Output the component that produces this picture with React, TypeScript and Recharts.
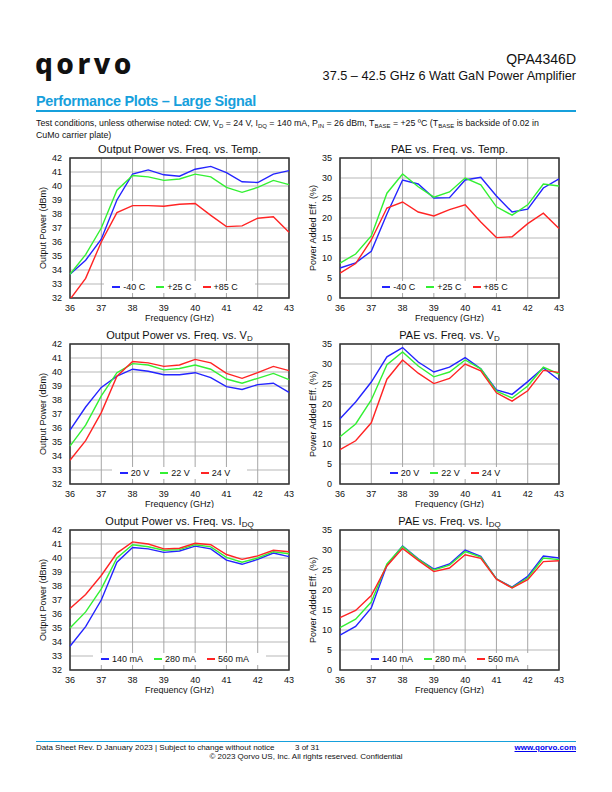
import React from 'react';
import { LineChart, Line, XAxis, YAxis, CartesianGrid, Legend, ReferenceArea } from 'recharts';

// frequency points (GHz)
const freqGHz = [36, 36.5, 37, 37.5, 38, 38.5, 39, 39.5, 40, 40.5, 41, 41.5, 42, 42.5, 43];
const freqTicks = [36, 37, 38, 39, 40, 41, 42, 43];
const poutTicks = [32, 33, 34, 35, 36, 37, 38, 39, 40, 41, 42];
const paeTicks = [0, 5, 10, 15, 20, 25, 30, 35];

// Output power vs temperature (dBm)
const poutM40C = [33.7, 34.7, 36.2, 39.0, 40.85, 41.15, 40.8, 40.7, 41.2, 41.4, 40.95, 40.3, 40.25, 40.85, 41.1];
const poutP25C = [33.7, 35.1, 37.0, 39.7, 40.75, 40.65, 40.4, 40.5, 40.85, 40.65, 39.9, 39.55, 39.9, 40.4, 40.1];
const poutP85C = [31.9, 33.4, 36.0, 38.1, 38.6, 38.6, 38.55, 38.7, 38.75, 37.9, 37.1, 37.15, 37.7, 37.8, 36.7];

// PAE vs temperature (%)
const paeM40C = [7.5, 8.8, 11.7, 21.0, 29.5, 28.5, 25.0, 25.1, 29.5, 30.2, 25.5, 21.5, 22.2, 27.5, 29.8];
const paeP25C = [8.7, 11.0, 15.5, 26.2, 31.0, 27.8, 25.2, 26.5, 30.0, 28.3, 22.8, 20.7, 23.3, 28.5, 28.0];
const paeP85C = [6.2, 8.6, 14.5, 22.5, 24.0, 21.5, 20.5, 22.1, 23.3, 19.0, 15.1, 15.3, 18.6, 21.2, 17.4];

// Output power vs VD (dBm)
const pout20V = [35.85, 37.5, 38.9, 39.7, 40.2, 40.05, 39.8, 39.8, 39.95, 39.6, 38.95, 38.75, 39.1, 39.2, 38.55];
const pout22V = [34.7, 36.2, 38.3, 39.95, 40.6, 40.5, 40.15, 40.25, 40.5, 40.2, 39.5, 39.2, 39.55, 39.9, 39.45];
const pout24V = [33.7, 35.1, 37.1, 39.7, 40.75, 40.65, 40.4, 40.5, 40.9, 40.65, 39.9, 39.55, 39.95, 40.4, 40.1];

// PAE vs VD (%)
const pae20V = [16.3, 20.5, 25.5, 31.8, 34.1, 30.5, 28.0, 29.2, 31.6, 28.8, 23.5, 22.4, 25.6, 29.0, 26.0];
const pae22V = [11.8, 15.0, 21.0, 29.8, 33.0, 29.5, 26.8, 28.0, 31.0, 28.8, 23.2, 21.5, 24.5, 29.2, 27.5];
const pae24V = [8.6, 10.8, 15.3, 26.2, 31.0, 27.7, 25.1, 26.4, 30.0, 28.3, 22.8, 20.7, 23.3, 28.4, 27.9];

// Output power vs IDQ (dBm)
const pout140mA = [33.7, 35.1, 37.0, 39.7, 40.75, 40.65, 40.4, 40.5, 40.85, 40.65, 39.85, 39.55, 39.9, 40.35, 40.1];
const pout280mA = [35.0, 36.15, 37.8, 40.0, 40.95, 40.8, 40.55, 40.6, 40.95, 40.8, 40.05, 39.7, 40.0, 40.45, 40.3];
const pout560mA = [36.4, 37.4, 38.75, 40.35, 41.15, 41.0, 40.65, 40.7, 41.05, 40.95, 40.25, 39.9, 40.15, 40.55, 40.45];

// PAE vs IDQ (%)
const pae140mA = [8.7, 10.9, 15.5, 26.2, 31.0, 27.8, 25.2, 26.5, 30.0, 28.4, 22.8, 20.7, 23.4, 28.5, 28.0];
const pae280mA = [10.6, 12.7, 17.0, 26.5, 30.9, 27.7, 25.0, 26.2, 29.6, 28.2, 22.8, 20.6, 23.0, 28.0, 27.6];
const pae560mA = [13.1, 14.9, 18.6, 26.0, 30.4, 27.4, 24.6, 25.5, 28.8, 27.9, 22.7, 20.5, 22.6, 27.1, 27.3];

const BLUE = '#2424ff';
const GREEN = '#33f033';
const RED = '#ff2424';
const FONT = '"Liberation Sans", Arial, sans-serif';

type SeriesDef = { key: string; name: string; color: string; values: number[] };

const buildRows = (series: SeriesDef[]) =>
  freqGHz.map((f, i) => {
    const row: Record<string, number> = { freq: f };
    series.forEach((s) => {
      row[s.key] = s.values[i];
    });
    return row;
  });

const Sub = ({ children, size = 8 }: { children: React.ReactNode; size?: number }) => (
  <span style={{ fontSize: size, position: 'relative', top: 2 }}>{children}</span>
);

// legend keeps the series order (the built-in payload gets sorted)
const ChartLegend = ({ items }: { items: SeriesDef[] }) => (
  <div style={{ textAlign: 'center', lineHeight: '12px' }}>
    <div style={{ display: 'inline-flex', background: '#fff', padding: '0 6px 0 8px', fontSize: 9, color: '#111' }}>
      {items.map((it) => (
        <span key={it.key} style={{ display: 'inline-flex', alignItems: 'center', marginRight: 11 }}>
          <span style={{ display: 'inline-block', width: 8, height: 2, background: it.color, marginRight: 3 }} />
          {it.name}
        </span>
      ))}
    </div>
  </div>
);

interface PlotProps {
  left: number;
  top: number;
  title: React.ReactNode;
  yLabel: string;
  yTicks: number[];
  series: SeriesDef[];
}

const PerfPlot = ({ left, top, title, yLabel, yTicks, series }: PlotProps) => {
  const data = buildRows(series);
  const yMin = yTicks[0];
  const yMax = yTicks[yTicks.length - 1];
  return (
    <div style={{ position: 'absolute', left, top, width: 265, height: 182 }}>
      <div style={{ position: 'absolute', left: 40, top: 2, width: 219, textAlign: 'center', fontSize: 11, lineHeight: '14px', color: '#111', zIndex: 2 }}>
        {title}
      </div>
      <LineChart width={265} height={182} data={data} margin={{ top: 18, right: 6, bottom: 0, left: 0 }}>
        <CartesianGrid horizontal={true} vertical={false} stroke="#cfcfcf" strokeWidth={1.5} />
        <CartesianGrid horizontal={false} vertical={true} stroke="#a6a6a6" strokeWidth={1} />
        <XAxis
          dataKey="freq"
          type="number"
          domain={[36, 43]}
          ticks={freqTicks}
          tickLine={false}
          axisLine={false}
          tickMargin={1}
          height={24}
          tick={{ fontSize: 9, fill: '#111', fontFamily: FONT }}
          label={{ value: 'Frequency (GHz)', position: 'insideBottom', offset: 1, fontSize: 9, fill: '#111', fontFamily: FONT }}
        />
        <YAxis
          type="number"
          domain={[yMin, yMax]}
          allowDataOverflow
          ticks={yTicks}
          interval={0}
          tickLine={false}
          axisLine={false}
          width={40}
          tick={{ fontSize: 9, fill: '#111', fontFamily: FONT }}
          label={{ value: yLabel, angle: -90, position: 'insideLeft', offset: 13, fontSize: 9, fill: '#111', fontFamily: FONT, style: { textAnchor: 'middle' } }}
        />
        <ReferenceArea x1={36} x2={43} y1={yMin} y2={yMax} fill="none" stroke="#333" strokeWidth={1.5} ifOverflow="visible" />
        {series.map((s) => (
          <Line key={s.key} type="linear" dataKey={s.key} name={s.name} stroke={s.color} strokeWidth={1.4} dot={false} isAnimationActive={false} />
        ))}
        <Legend
          layout="horizontal"
          verticalAlign="middle"
          align="center"
          content={() => <ChartLegend items={series} />}
          wrapperStyle={{ left: 40, top: 137, width: 219, height: 12 }}
        />
      </LineChart>
    </div>
  );
};

const tempSeries = (a: number[], b: number[], c: number[]): SeriesDef[] => [
  { key: 'm40', name: '-40 C', color: BLUE, values: a },
  { key: 'p25', name: '+25 C', color: GREEN, values: b },
  { key: 'p85', name: '+85 C', color: RED, values: c },
];
const vdSeries = (a: number[], b: number[], c: number[]): SeriesDef[] => [
  { key: 'v20', name: '20 V', color: BLUE, values: a },
  { key: 'v22', name: '22 V', color: GREEN, values: b },
  { key: 'v24', name: '24 V', color: RED, values: c },
];
const idqSeries = (a: number[], b: number[], c: number[]): SeriesDef[] => [
  { key: 'i140', name: '140 mA', color: BLUE, values: a },
  { key: 'i280', name: '280 mA', color: GREEN, values: b },
  { key: 'i560', name: '560 mA', color: RED, values: c },
];

const App = () => {
  return (
    <div style={{ position: 'absolute', left: 0, top: 0, width: 612, height: 792, background: '#fff', fontFamily: FONT, color: '#111' }}>
      {/* header */}
      <div style={{ position: 'absolute', left: 35, top: 44, fontFamily: '"Noto Sans", sans-serif', fontWeight: 800, fontSize: 28, letterSpacing: 3.5, color: '#111' }}>
        qorvo
      </div>
      <div style={{ position: 'absolute', right: 36, top: 51, fontSize: 14, lineHeight: '16px' }}>QPA4346D</div>
      <div style={{ position: 'absolute', right: 36, top: 69, fontSize: 12.7, lineHeight: '14px' }}>37.5 – 42.5 GHz 6 Watt GaN Power Amplifier</div>
      <div style={{ position: 'absolute', left: 36, top: 93, fontSize: 14.4, fontWeight: 700, color: '#16a0dc', lineHeight: '17px', letterSpacing: -0.3 }}>
        Performance Plots – Large Signal
      </div>
      <div style={{ position: 'absolute', left: 36, top: 110, width: 540, height: 1.5, background: '#16a0dc' }} />
      <div style={{ position: 'absolute', left: 36, top: 118, width: 545, fontSize: 8.8, lineHeight: '11px' }}>
        Test conditions, unless otherwise noted: CW, V<Sub size={6}>D</Sub> = 24 V, I<Sub size={6}>DQ</Sub> = 140 mA, P<Sub size={6}>IN</Sub> = 26 dBm, T
        <Sub size={6}>BASE</Sub> = +25 ºC (T<Sub size={6}>BASE</Sub> is backside of 0.02 in
        <br />
        CuMo carrier plate)
      </div>

      <PerfPlot left={30} top={140} title="Output Power vs. Freq. vs. Temp." yLabel="Output Power (dBm)" yTicks={poutTicks} series={tempSeries(poutM40C, poutP25C, poutP85C)} />
      <PerfPlot left={300} top={140} title="PAE vs. Freq. vs. Temp." yLabel="Power Added Eff. (%)" yTicks={paeTicks} series={tempSeries(paeM40C, paeP25C, paeP85C)} />
      <PerfPlot
        left={30}
        top={326}
        title={<>Output Power vs. Freq. vs. V<Sub>D</Sub></>}
        yLabel="Output Power (dBm)"
        yTicks={poutTicks}
        series={vdSeries(pout20V, pout22V, pout24V)}
      />
      <PerfPlot
        left={300}
        top={326}
        title={<>PAE vs. Freq. vs. V<Sub>D</Sub></>}
        yLabel="Power Added Eff. (%)"
        yTicks={paeTicks}
        series={vdSeries(pae20V, pae22V, pae24V)}
      />
      <PerfPlot
        left={30}
        top={512}
        title={<>Output Power vs. Freq. vs. I<Sub>DQ</Sub></>}
        yLabel="Output Power (dBm)"
        yTicks={poutTicks}
        series={idqSeries(pout140mA, pout280mA, pout560mA)}
      />
      <PerfPlot
        left={300}
        top={512}
        title={<>PAE vs. Freq. vs. I<Sub>DQ</Sub></>}
        yLabel="Power Added Eff. (%)"
        yTicks={paeTicks}
        series={idqSeries(pae140mA, pae280mA, pae560mA)}
      />

      {/* footer */}
      <div style={{ position: 'absolute', left: 36, top: 741, width: 540, height: 1, background: '#16a0dc' }} />
      <div style={{ position: 'absolute', left: 36, top: 743, fontSize: 8, lineHeight: '10px', whiteSpace: 'pre' }}>
        Data Sheet Rev. D January 2023 | Subject to change without notice
      </div>
      <div style={{ position: 'absolute', left: 295, top: 743, fontSize: 8, lineHeight: '10px' }}>3 of 31</div>
      <div style={{ position: 'absolute', right: 36, top: 743, fontSize: 8, lineHeight: '10px', fontWeight: 700, color: '#0000ee', textDecoration: 'underline' }}>
        www.qorvo.com
      </div>
      <div style={{ position: 'absolute', left: 0, top: 752, width: 612, textAlign: 'center', fontSize: 8, lineHeight: '10px' }}>
        © 2023 Qorvo US, Inc. All rights reserved. Confidential
      </div>
    </div>
  );
};

export default App;
